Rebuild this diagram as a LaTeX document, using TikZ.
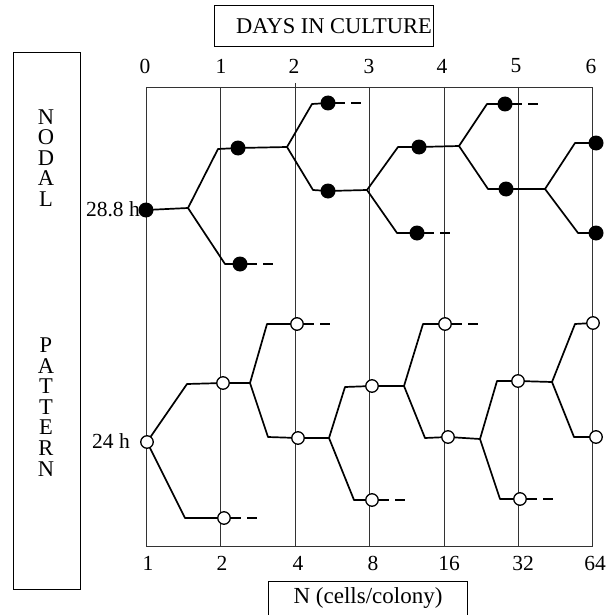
\documentclass[tikz,border=0pt]{standalone}
\usepackage{fontspec}
\setmainfont{Liberation Serif}
\begin{document}
\begin{tikzpicture}[x=1pt,y=-1pt,
  gridline/.style={draw=black!80, line width=0.7pt},
  br/.style={line width=1.7pt, line join=round, line cap=round},
  fdot/.style={circle, fill=black, inner sep=0pt, minimum size=15pt},
  odot/.style={circle, draw=black, fill=white, line width=1.3pt, inner sep=0pt, minimum size=12.5pt},
  tail/.style={line width=1.6pt, dash pattern=on 17pt off 6pt on 10pt},
  lbl/.style={font=\fontsize{21.5}{24}\selectfont, inner sep=0pt},
  ttl/.style={font=\fontsize{22.5}{26}\selectfont, inner sep=0pt},
  box/.style={draw, line width=0.8pt}]
\useasboundingbox (0,0) rectangle (615,615);

% boxes and titles
\draw[box] (214,5) rectangle (433,46);
\node[ttl] (title) at (334,26) {DAYS IN CULTURE};
\draw[box] (13,52) rectangle (80,589);
\node[ttl, align=center, font=\fontsize{22.5}{20.6}\selectfont] (nodal) at (46,158) {N\\O\\D\\A\\L};
\node[ttl, align=center, font=\fontsize{22.5}{20.6}\selectfont] (pattern) at (46,407) {P\\A\\T\\T\\E\\R\\N};
\draw[box] (268,620) -- (268,581) -- (467,581) -- (467,620);
\node[ttl, font=\fontsize{23}{26}\selectfont] (ncells) at (368,598) {N (cells/colony)};

% frame and grid
\draw[gridline] (146,87) rectangle (592,546);
\foreach \x in {220,369,444,518} \draw[gridline] (\x,87) -- (\x,546);
\draw[gridline] (295,83) -- (295,546);

% axis labels
\foreach \x/\t [count=\i] in {145/0,221/1,294/2,369/3,442/4,516/5,591/6}
  \node[lbl] (top\i) at (\x,66) {\t};
\foreach \x/\t [count=\i] in {148/1,222/2,298/4,373/8,449/16,523/32,595/64}
  \node[lbl] (bot\i) at (\x,563) {\t};
\node[lbl, anchor=east] (lab288) at (140,209) {28.8 h};
\node[lbl, anchor=east] (lab24) at (130,441) {24 h};

% ---------- nodal tree (filled) ----------
\coordinate (n0) at (146,210);
\coordinate (b1) at (188,208);
\coordinate (k1u) at (218,149); \coordinate (d1u) at (238,148); \coordinate (b2) at (287,147);
\coordinate (k1d) at (225,264); \coordinate (d1d) at (240,264);
\coordinate (k2u) at (312,104); \coordinate (d2u) at (328,103);
\coordinate (k2d) at (313,190); \coordinate (d2d) at (328,191); \coordinate (b3) at (367,190);
\coordinate (k3u) at (398,147); \coordinate (d3u) at (419,147); \coordinate (b4) at (459,146);
\coordinate (k3d) at (397,233); \coordinate (d3d) at (417,233);
\coordinate (k4u) at (487,104); \coordinate (d4u) at (505,104);
\coordinate (k4d) at (488,189); \coordinate (d4d) at (506,189); \coordinate (b5) at (545,189);
\coordinate (k5u) at (575,143); \coordinate (d5u) at (596,143);
\coordinate (k5d) at (578,233); \coordinate (d5d) at (596,233);

\draw[br] (n0) -- (b1) -- (k1u) -- (d1u) -- (b2) -- (k2u) -- (d2u);
\draw[br] (b1) -- (k1d) -- (d1d);
\draw[br] (b2) -- (k2d) -- (d2d) -- (b3) -- (k3u) -- (d3u) -- (b4) -- (k4u) -- (d4u);
\draw[br] (b3) -- (k3d) -- (d3d);
\draw[br] (b4) -- (k4d) -- (d4d) -- (b5) -- (k5u) -- (d5u);
\draw[br] (b5) -- (k5d) -- (d5d);
\foreach \p in {d1d,d2u,d3d,d4u} \draw[tail] (\p) -- ++(33,0);

\foreach \p in {n0,d1u,d1d,d2u,d2d,d3u,d3d,d4u,d4d,d5u,d5d}
  \node[fdot] (F\p) at (\p) {};

% ---------- pattern tree (open) ----------
\coordinate (p0) at (147,442);
\coordinate (j1u) at (187,384); \coordinate (e1u) at (223,383); \coordinate (c1) at (250,383);
\coordinate (j1d) at (185,518); \coordinate (e1d) at (224,518);
\coordinate (j2u) at (267,324); \coordinate (e2u) at (297,324);
\coordinate (j2d) at (268,437); \coordinate (e2d) at (298,438); \coordinate (c2) at (329,438);
\coordinate (j3u) at (345,387); \coordinate (e3u) at (372,386); \coordinate (c3) at (404,386);
\coordinate (j3d) at (354,500); \coordinate (e3d) at (372,500);
\coordinate (j4u) at (423,324); \coordinate (e4u) at (445,324);
\coordinate (j4d) at (425,438); \coordinate (e4d) at (448,437); \coordinate (c4) at (480,439);
\coordinate (j5u) at (497,381); \coordinate (e5u) at (518,381); \coordinate (c5) at (552,382);
\coordinate (j5d) at (500,499); \coordinate (e5d) at (520,499);
\coordinate (j6u) at (575,324); \coordinate (e6u) at (593,323);
\coordinate (j6d) at (574,437); \coordinate (e6d) at (596,437);

\draw[br] (p0) -- (j1u) -- (e1u) -- (c1) -- (j2u) -- (e2u);
\draw[br] (p0) -- (j1d) -- (e1d);
\draw[br] (c1) -- (j2d) -- (e2d) -- (c2) -- (j3u) -- (e3u) -- (c3) -- (j4u) -- (e4u);
\draw[br] (c2) -- (j3d) -- (e3d);
\draw[br] (c3) -- (j4d) -- (e4d) -- (c4) -- (j5u) -- (e5u) -- (c5) -- (j6u) -- (e6u);
\draw[br] (c4) -- (j5d) -- (e5d);
\draw[br] (c5) -- (j6d) -- (e6d);
\foreach \p in {e1d,e2u,e3d,e4u,e5d} \draw[tail] (\p) -- ++(33,0);

\foreach \p in {p0,e1u,e1d,e2u,e2d,e3u,e3d,e4u,e4d,e5u,e5d,e6u,e6d}
  \node[odot] (O\p) at (\p) {};
\end{tikzpicture}
\end{document}
